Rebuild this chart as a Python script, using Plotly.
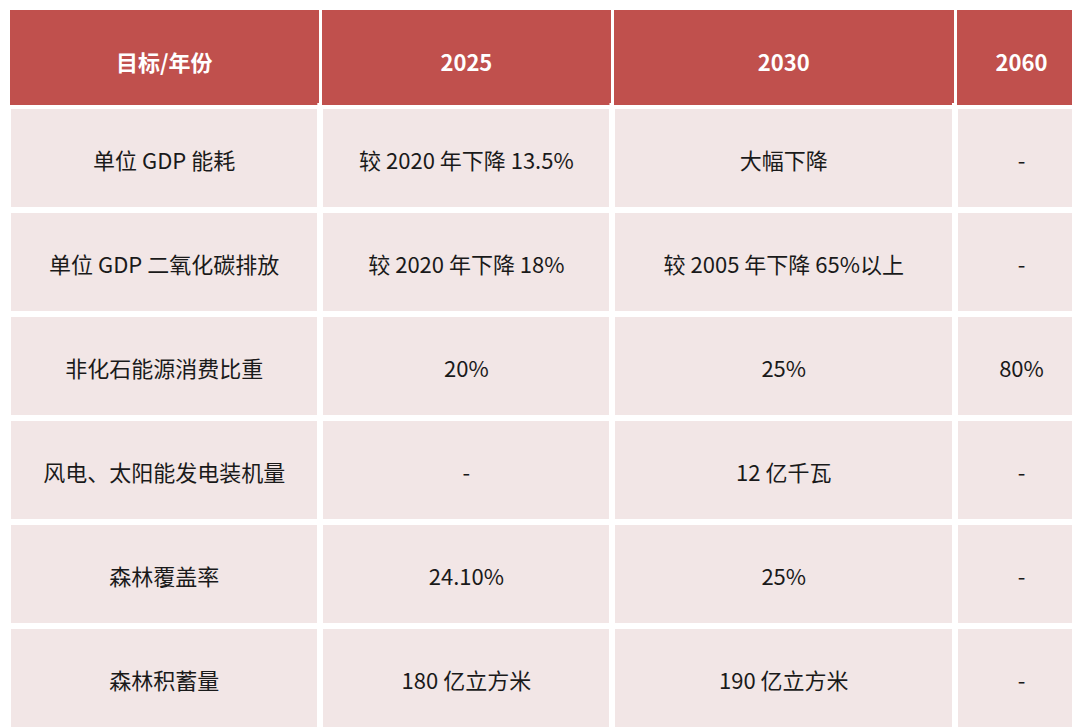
import plotly.graph_objects as go

header = ["目标/年份", "2025", "2030", "2060"]
targets = ["单位 GDP 能耗", "单位 GDP 二氧化碳排放", "非化石能源消费比重",
           "风电、太阳能发电装机量", "森林覆盖率", "森林积蓄量"]
y2025 = ["较 2020 年下降 13.5%", "较 2020 年下降 18%", "20%", "-", "24.10%", "180 亿立方米"]
y2030 = ["大幅下降", "较 2005 年下降 65%以上", "25%", "12 亿千瓦", "25%", "190 亿立方米"]
y2060 = ["-", "-", "80%", "-", "-", "-"]


def pad(col):
    # non-breaking space line pushes the text toward the vertical middle
    return ["\u00a0<br>" + s for s in col]


fig = go.Figure(go.Table(
    columnwidth=[310, 290, 340, 132],
    header=dict(
        values=pad(["<b>%s</b>" % h for h in header]),
        fill_color="#c0504d",
        line=dict(color="white", width=3),
        font=dict(family="Noto Sans CJK SC", size=22, color="white"),
        align="center",
        height=98,
    ),
    cells=dict(
        values=[pad(targets), pad(y2025), pad(y2030), pad(y2060)],
        fill_color="#f2e6e6",
        line=dict(color="white", width=6),
        font=dict(family="Noto Sans CJK SC", size=22, color="#1a1a1a"),
        align="center",
        height=104,
    ),
))

fig.update_layout(
    width=1080, height=727,
    margin=dict(l=0, r=0, t=0, b=0),
    paper_bgcolor="white",
)

fig.write_html("out.html")
